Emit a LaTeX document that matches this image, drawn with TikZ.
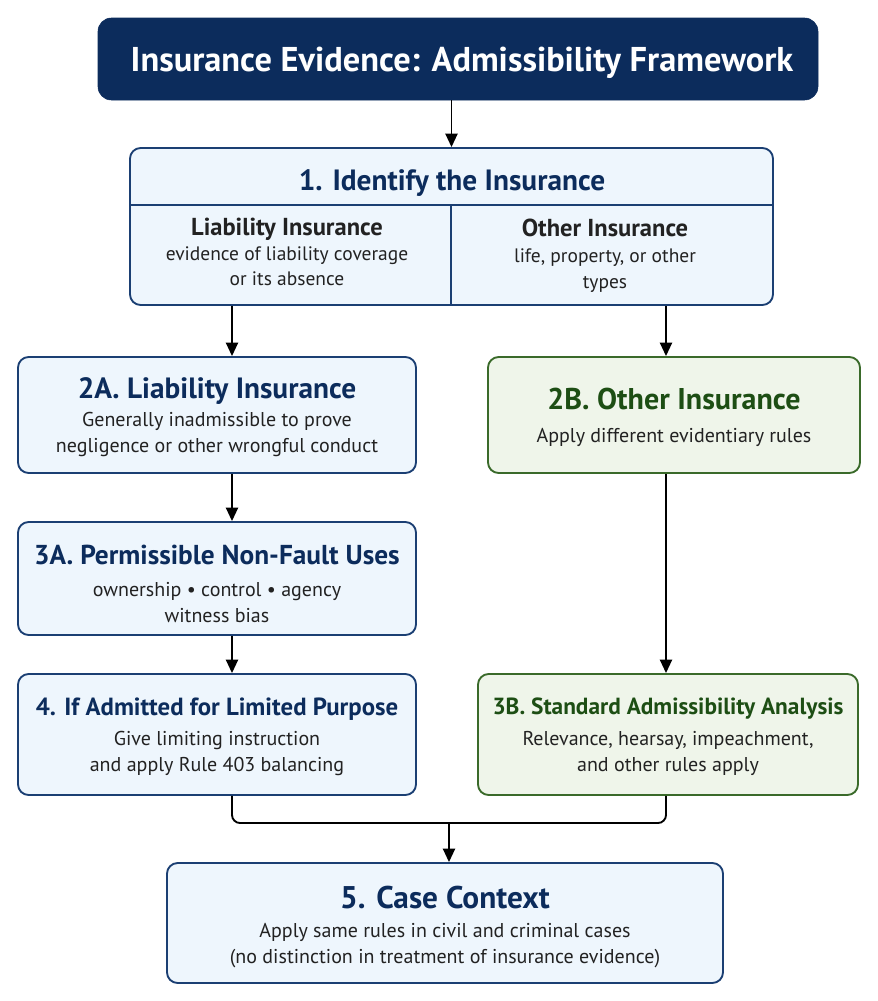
\documentclass[tikz,border=0pt]{standalone}
\usepackage{fontspec}
\setmainfont{PT Sans}
\usetikzlibrary{arrows.meta}
\definecolor{navy}{HTML}{0C2C5C}
\definecolor{boxblue}{HTML}{EEF6FD}
\definecolor{edgeblue}{HTML}{1B3F73}
\definecolor{boxgreen}{HTML}{EFF5EA}
\definecolor{edgegreen}{HTML}{3A6A2A}
\definecolor{textgreen}{HTML}{1D4E14}
\definecolor{bodygray}{HTML}{222222}
\newcommand{\headtxt}[2][22]{{\fontsize{#1}{#1}\selectfont\bfseries #2}}
\tikzset{
	stepblue/.style={draw=edgeblue, fill=boxblue, line width=1.4pt, rounded corners=8pt, inner sep=0pt},
	stepgreen/.style={stepblue, draw=edgegreen, fill=boxgreen},
	steptext/.style={align=center, inner sep=0pt, text=bodygray, font=\fontsize{15}{19.5}\selectfont},
	arr/.style={line width=1.4pt, -{Triangle[length=10pt,width=9pt]}},
}
\begin{document}
\begin{tikzpicture}[x=0.75pt, y=-0.75pt]
		\def\px{0.75pt}
		\useasboundingbox (0,0) rectangle (878,1001);
		\coordinate (colL) at (232,0);
		\coordinate (colR) at (666,0);
		\coordinate (merge) at (449,823);
		% title
		\node[fill=navy, draw=navy, rounded corners=10pt, minimum width=720*\px, minimum height=82*\px] (title) at (458,59) {};
		\node[text=white, font=\fontsize{25.8}{30}\selectfont\bfseries] (titletxt) at (462,63) {Insurance Evidence: Admissibility Framework};
		% step 1 with two columns
		\node[stepblue, minimum width=643*\px, minimum height=157*\px] (box1) at (451.5,226.5) {};
		\draw[edgeblue, line width=1pt] (box1.west |- 0,205) -- (box1.east |- 0,205);
		\draw[edgeblue, line width=1pt] (451,205) -- (box1.south -| 451,0);
		\node[text=navy] (head1) at (452,183) {\headtxt{1. Identify the Insurance}};
		\node[steptext, font=\fontsize{14.6}{18.75}\selectfont] (liab) at (287,252) {{\fontsize{18.4}{22}\selectfont\bfseries Liability Insurance}\\evidence of liability coverage\\or its absence};
		\node[steptext, font=\fontsize{14.6}{19.5}\selectfont] (other) at (605,256) {{\fontsize{18.4}{22}\selectfont\bfseries Other Insurance}\\life, property, or other\\types};
		% liability branch
		\node[stepblue, minimum width=398*\px, minimum height=116*\px] (boxIIa) at (217,415) {};
		\node[steptext] (txtIIa) at (217,417) {\textcolor{navy}{\headtxt{2A. Liability Insurance}}\\[2pt]Generally inadmissible to prove\\negligence or other wrongful conduct};
		\node[stepblue, minimum width=398*\px, minimum height=113*\px] (boxIIIa) at (217,578.5) {};
		\node[steptext] (txtIIIa) at (217,584) {\textcolor{navy}{\headtxt[20.5]{3A. Permissible Non-Fault Uses}}\\[4pt]ownership \textbullet{} control \textbullet{} agency\\witness bias};
		\node[stepblue, minimum width=398*\px, minimum height=121*\px] (boxIV) at (217,734.5) {};
		\node[steptext] (txtIV) at (217,737) {\textcolor{navy}{\headtxt[18.6]{4. If Admitted for Limited Purpose}}\\[3pt]Give limiting instruction\\and apply Rule 403 balancing};
		% other branch
		\node[stepgreen, minimum width=372*\px, minimum height=116*\px] (boxIIb) at (674,415) {};
		\node[steptext] (txtIIb) at (674,417.5) {\textcolor{textgreen}{\headtxt[22.5]{2B. Other Insurance}}\\[5pt]Apply different evidentiary rules};
		\node[stepgreen, minimum width=380*\px, minimum height=121*\px] (boxIIIb) at (668,734.5) {};
		\node[steptext] (txtIIIb) at (668,737) {\textcolor{textgreen}{\headtxt[17.5]{3B. Standard Admissibility Analysis}}\\[3.5pt]Relevance, hearsay, impeachment,\\and other rules apply};
		% last step
		\node[stepblue, minimum width=556*\px, minimum height=120*\px] (boxV) at (445,923) {};
		\node[steptext] (txtV) at (445,927) {\textcolor{navy}{\headtxt[23.5]{5. Case Context}}\\[2pt]Apply same rules in civil and criminal cases\\(no distinction in treatment of insurance evidence)};
		% connectors
		\draw[arr] (box1.north |- title.south) -- (box1.north);
		\draw[arr] (box1.south -| colL) -- (boxIIa.north -| colL);
		\draw[arr] (box1.south -| colR) -- (boxIIb.north -| colR);
		\draw[arr] (boxIIa.south -| colL) -- (boxIIIa.north -| colL);
		\draw[arr] (boxIIIa.south -| colL) -- (boxIV.north -| colL);
		\draw[arr] (boxIIb.south -| colR) -- (boxIIIb.north -| colR);
		\draw[line width=1.4pt, rounded corners=6pt] (boxIV.south -| colL) |- (merge) -| (boxIIIb.south -| colR);
		\draw[arr] (merge) -- (boxV.north -| merge);
\end{tikzpicture}
\end{document}
